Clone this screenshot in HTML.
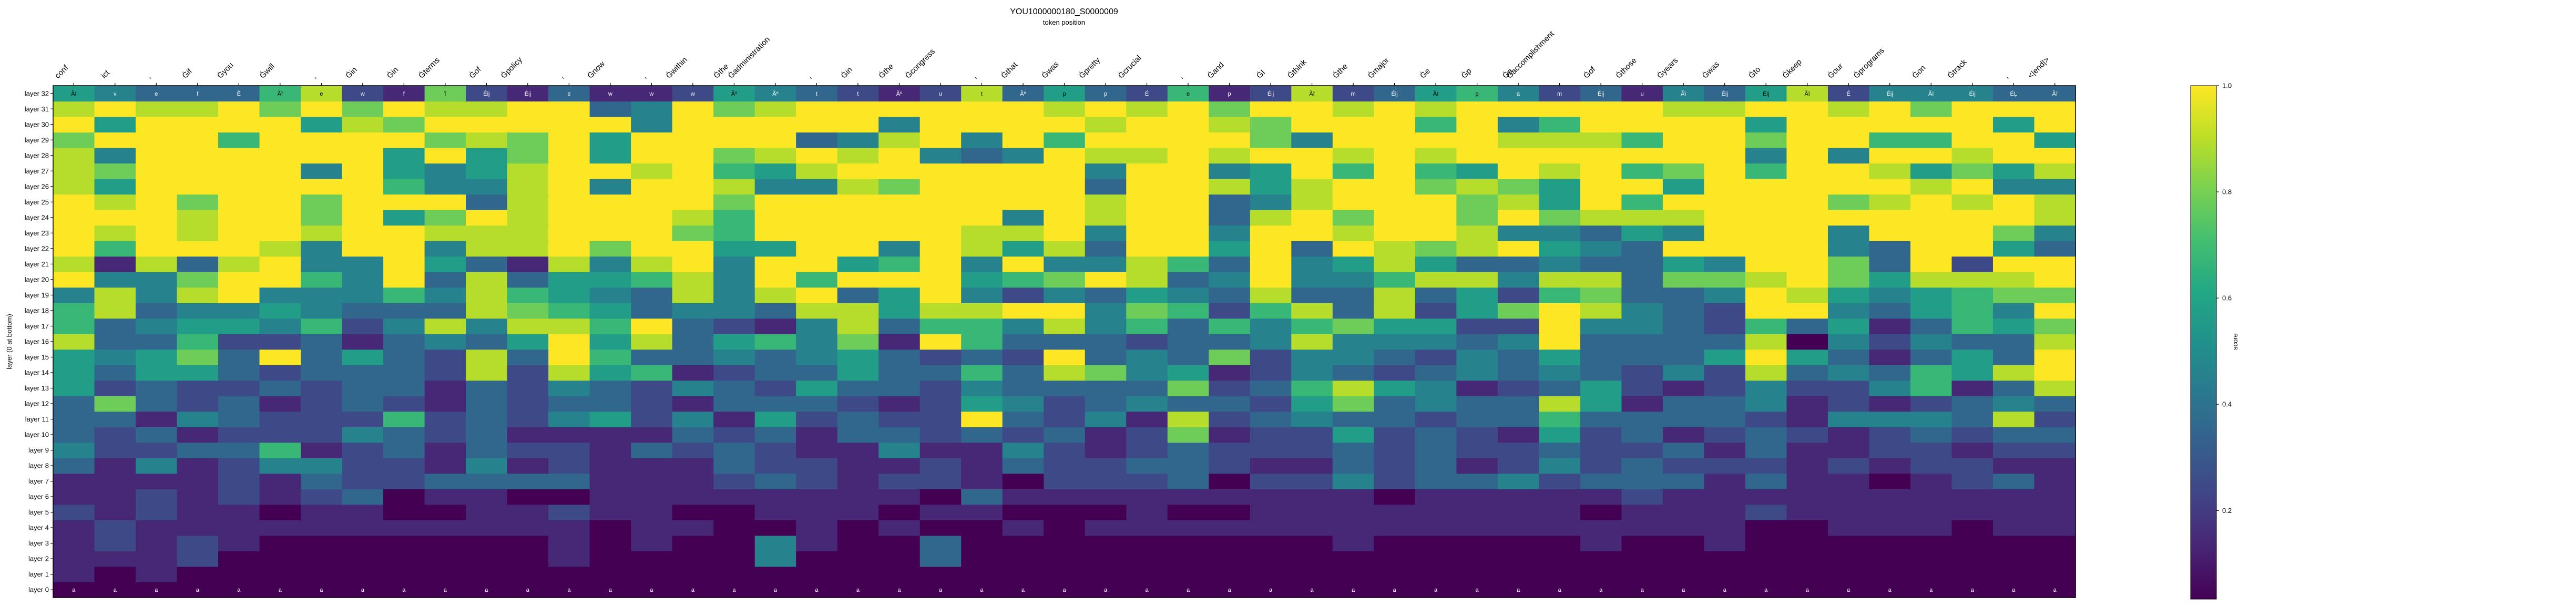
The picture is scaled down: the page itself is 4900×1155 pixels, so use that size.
<!DOCTYPE html>
<html><head><meta charset="utf-8">
<style>
html,body{margin:0;padding:0;background:#fff;}
svg{display:block;font-family:"Liberation Sans","DejaVu Sans",sans-serif;}
</style></head>
<body>
<svg id="chart" width="4900" height="1155" viewBox="0 0 4900 1155" xmlns="http://www.w3.org/2000/svg">
  <text x="2024" y="27" text-anchor="middle" font-size="16">YOU1000000180_S0000009</text>
  <text x="2024" y="47" text-anchor="middle" font-size="13">token position</text>
  <text transform="translate(22,650) rotate(-90)" text-anchor="middle" font-size="13">layer (0 at bottom)</text>
  <g id="cells"></g>
  <g id="xticks"></g>
  <g id="yticks"></g>
  <rect x="101" y="163" width="3847" height="974" fill="none" stroke="#000" stroke-width="1.5"/>
  <defs><linearGradient id="vgrad" x1="0" y1="1" x2="0" y2="0"></linearGradient></defs>
  <rect x="4167" y="163" width="49" height="977" fill="url(#vgrad)" stroke="#000" stroke-width="1"/>
  <g id="cbticks"></g>
  <text transform="translate(4256,650) rotate(-90)" text-anchor="middle" font-size="13">score</text>
</svg>
<script>
// ---- data ----
const tokens = ["conf","ict",",","Ġif","Ġyou","Ġwill",",","Ġin","Ġin","Ġterms","Ġof","Ġpolicy",",","Ġnow",",","Ġwithin","Ġthe","Ġadministration",",","Ġin","Ġthe","Ġcongress",",","Ġthat","Ġwas","Ġpretty","Ġcrucial",",","Ġand","ĠI","Ġthink","Ġthe","Ġmajor","Ġe","Ġp","Ġa","Ġaccomplishment","Ġof","Ġthose","Ġyears","Ġwas","Ġto","Ġkeep","Ġour","Ġprograms","Ġon","Ġtrack",",","<|end|>"];
const colorbarTicks = [0.2,0.4,0.6,0.8,1.0];
const scoreMin = 0.033, scoreMax = 1.0;
// level values (0..9) per layer, score = min + level/9*(max-min)
const layer32=[5,4,3,3,3,6,8,2,1,7,2,1,3,1,1,2,5,4,3,2,1,2,8,3,5,3,2,6,1,2,8,2,3,5,6,4,2,3,1,4,3,5,8,2,4,4,4,3,3];
const layer31=[8,9,8,8,9,7,9,7,9,8,8,9,9,3,4,9,7,8,9,9,9,9,9,9,8,9,8,9,7,9,9,8,9,8,9,9,9,9,9,8,8,9,9,8,9,7,9,9,9];
const layer30=[9,5,9,9,9,9,5,8,7,9,9,9,9,9,4,9,9,9,9,9,4,9,9,9,9,8,9,9,8,7,9,9,9,6,9,4,6,9,9,9,9,5,9,9,9,9,9,5,9];
const layer29=[7,9,9,9,6,9,9,9,9,7,8,7,9,5,9,9,9,9,3,4,8,9,4,9,6,9,9,9,9,7,4,9,9,9,9,8,8,8,6,9,9,7,9,9,6,6,9,9,5];
const layer28=[8,4,9,9,9,9,9,9,5,9,5,7,9,5,9,9,7,8,9,8,9,4,3,4,9,8,8,9,8,9,9,8,9,8,9,9,9,9,9,9,9,4,9,4,9,9,8,9,9];
const layer27=[8,7,9,9,9,9,4,9,5,4,5,8,9,9,8,9,6,5,8,9,9,9,9,9,9,4,9,9,4,5,9,6,9,6,5,9,8,9,6,7,9,6,9,9,8,5,7,5,8];
const layer26=[8,5,9,9,9,9,9,9,6,4,4,8,9,4,9,9,8,4,4,8,7,9,9,9,9,3,9,9,8,5,8,9,9,7,8,7,5,9,9,5,9,9,9,9,9,8,9,4,4];
const layer25=[9,8,9,7,9,9,7,9,9,9,3,8,9,9,9,9,7,9,9,9,9,9,9,9,9,8,9,9,3,4,8,9,9,9,7,8,5,9,6,9,9,9,9,7,8,9,8,9,8];
const layer24=[9,9,9,8,9,9,7,9,5,7,9,8,9,9,9,8,6,9,9,9,9,9,9,4,9,8,9,9,3,8,9,7,9,9,7,9,7,8,8,8,9,9,9,9,9,9,9,9,8];
const layer23=[9,8,9,8,9,9,8,9,9,8,8,8,9,9,9,7,6,9,9,9,9,9,8,8,9,4,9,9,4,9,9,8,9,9,8,4,4,3,5,4,9,9,9,4,9,9,9,7,4];
const layer22=[9,6,9,9,9,8,4,9,9,4,8,8,9,7,9,9,5,5,9,9,4,9,8,5,8,3,9,9,5,9,3,9,8,7,8,9,5,4,3,9,9,9,9,4,3,9,9,5,3];
const layer21=[8,1,8,3,8,9,4,4,9,5,3,1,8,4,8,9,4,9,9,5,6,9,4,9,4,4,8,6,3,9,4,5,8,5,3,3,4,3,3,5,4,9,9,7,3,9,2,9,9];
const layer20=[9,4,4,7,9,9,6,4,9,3,8,3,5,5,6,8,4,9,6,9,9,9,5,6,7,9,8,3,4,9,4,4,6,8,8,4,8,8,3,7,7,8,9,7,5,8,8,8,9];
const layer19=[4,8,4,8,9,4,4,4,6,4,8,6,5,4,3,8,4,8,9,3,5,9,4,2,4,3,5,4,3,8,3,3,8,3,5,2,6,7,3,3,4,9,8,5,4,5,6,7,7];
const layer18=[6,8,3,4,4,5,4,3,3,3,8,7,6,5,3,4,4,3,8,8,5,8,8,9,9,4,7,6,2,6,8,3,8,2,5,7,9,8,4,3,2,9,9,4,3,5,6,4,9];
const layer17=[6,3,4,5,5,4,6,2,4,8,4,8,8,6,9,3,2,1,4,8,3,6,6,4,8,4,6,3,6,4,6,7,5,5,2,2,9,4,4,3,2,6,3,5,1,3,6,5,7];
const layer16=[8,3,3,6,2,2,3,1,3,4,3,5,9,5,8,3,5,6,4,7,1,9,6,3,3,3,2,3,3,4,8,4,4,4,3,4,9,3,3,3,3,8,0,4,2,4,3,3,8];
const layer15=[5,4,5,7,3,9,3,5,3,2,8,3,9,6,3,3,4,3,4,5,3,2,3,2,9,3,4,3,7,2,4,4,3,2,4,3,5,3,3,3,5,9,5,3,1,3,5,3,9];
const layer14=[5,3,5,5,3,2,3,3,3,2,8,2,8,5,6,1,2,3,3,5,3,3,6,3,8,7,4,5,1,2,4,3,2,3,4,3,4,3,2,4,2,8,3,4,3,6,5,8,9];
const layer13=[5,2,3,2,2,3,2,3,3,1,3,2,4,3,2,4,3,2,5,3,3,2,4,3,3,3,3,7,2,3,6,8,5,4,1,2,3,5,2,1,2,4,2,2,4,6,1,3,8];
const layer12=[3,7,3,2,3,1,2,3,2,1,3,2,3,3,2,1,3,3,3,2,1,2,5,4,2,3,4,3,3,2,5,7,3,4,3,3,8,5,1,3,3,4,1,2,1,2,3,4,3];
const layer11=[3,3,1,4,3,2,2,2,6,2,3,2,4,5,2,4,1,5,2,3,2,2,9,3,2,4,1,8,2,3,4,3,3,2,3,3,6,3,3,3,3,2,1,4,4,4,3,8,2];
const layer10=[3,2,3,1,2,2,2,4,3,2,3,1,1,1,1,3,2,3,1,3,3,2,3,2,3,1,2,7,1,2,2,5,2,3,2,1,5,2,3,1,2,3,2,1,2,3,2,3,3];
const layer9=[4,2,2,3,3,6,1,2,3,1,3,2,2,1,3,2,3,2,1,1,4,1,1,4,2,1,2,3,2,2,2,3,2,3,2,2,3,2,2,3,1,3,1,1,2,2,1,2,2];
const layer8=[3,1,4,1,2,4,4,2,2,1,4,1,2,1,1,1,3,2,2,1,1,2,1,3,2,2,3,3,2,1,1,3,2,3,1,2,4,2,3,2,2,2,1,2,1,2,2,1,1];
const layer7=[1,1,1,1,2,1,3,2,2,3,3,3,3,1,1,1,2,3,2,1,2,2,1,0,2,2,2,3,0,2,2,4,2,3,3,4,2,3,3,3,1,3,1,1,0,1,2,3,1];
const layer6=[1,1,2,1,2,1,2,3,0,1,1,0,0,1,1,1,1,1,1,1,1,0,3,1,1,1,1,1,1,1,1,1,0,1,1,1,1,1,2,1,1,1,1,1,1,1,1,1,1];
const layer5=[2,1,2,1,1,0,1,1,0,0,1,1,2,1,1,0,0,1,1,1,0,1,1,0,0,0,1,0,0,1,1,1,1,1,1,1,1,0,1,1,1,2,1,1,1,1,1,1,1];
const layer4=[1,2,1,1,1,1,1,1,1,1,1,1,1,0,1,1,0,0,1,0,1,0,0,1,0,1,1,1,1,1,1,1,1,1,1,1,1,1,1,1,1,0,0,1,1,1,0,1,1];
const layer3=[1,2,1,2,1,0,0,0,0,0,0,0,1,0,1,0,0,4,1,0,0,3,0,0,0,0,0,0,0,0,0,1,0,0,0,0,0,1,0,0,1,0,0,0,0,0,0,0,0];
const layer2=[1,1,1,2,0,0,0,0,0,0,0,0,1,0,0,0,0,4,0,0,0,3,0,0,0,0,0,0,0,0,0,0,0,0,0,0,0,0,0,0,0,0,0,0,0,0,0,0,0];
const layer1=[1,0,1,0,0,0,0,0,0,0,0,0,0,0,0,0,0,0,0,0,0,0,0,0,0,0,0,0,0,0,0,0,0,0,0,0,0,0,0,0,0,0,0,0,0,0,0,0,0];
const layer0=[0,0,0,0,0,0,0,0,0,0,0,0,0,0,0,0,0,0,0,0,0,0,0,0,0,0,0,0,0,0,0,0,0,0,0,0,0,0,0,0,0,0,0,0,0,0,0,0,0];
const layers=[layer0,layer1,layer2,layer3,layer4,layer5,layer6,layer7,layer8,layer9,layer10,layer11,layer12,layer13,layer14,layer15,layer16,layer17,layer18,layer19,layer20,layer21,layer22,layer23,layer24,layer25,layer26,layer27,layer28,layer29,layer30,layer31,layer32];
const layer32Text=["Ãï","v","e","f","Ê","Ãï","e","w","f","ĩ","Éij","Éij","e","w","w","w","Ãº","Ãº","t","t","Ãº","u","t","Ãº","p","p","É","e","p","Éij","Ãï","m","Éij","Ãï","p","a","m","Éij","u","Ãï","Éij","Éij","Ãï","É","Éij","Ãï","Éij","ÉĻ","Ãï"];

// ---- geometry ----
const NS="http://www.w3.org/2000/svg";
const plotL=101, plotT=163, plotW=3847, plotH=974;
const nCols=tokens.length, nRows=layers.length;
const cw=plotW/nCols, ch=plotH/nRows;
function xCenter(i){return plotL+(i+0.5)*cw;}
function yTop(layer){return plotT+(nRows-1-layer)*ch;}
function toScore(level){return scoreMin+level/9*(scoreMax-scoreMin);}
const vir=["#440154","#482475","#414487","#355f8d","#2a788e","#21918c","#22a884","#44bf70","#7ad151","#bddf26","#fde725"];
function hex(h){return [1,3,5].map(k=>parseInt(h.substr(k,2),16));}
function viridis(t){t=Math.max(0,Math.min(1,t));const p=t*10,i=Math.min(9,Math.floor(p)),f=p-i;const a=hex(vir[i]),b=hex(vir[i+1]);return "rgb("+a.map((v,k)=>Math.round(v+(b[k]-v)*f)).join(",")+")";}
function colorOf(score){return viridis((score-scoreMin)/(scoreMax-scoreMin));}
function cbY(score){return 1140-(score-scoreMin)/(scoreMax-scoreMin)*977;}

// ---- cells ----
const gc=document.getElementById('cells');
layers.forEach((row,l)=>{
  row.forEach((lv,i)=>{
    const s=toScore(lv);
    const r=document.createElementNS(NS,'rect');
    r.setAttribute('x',(plotL+i*cw).toFixed(2));
    r.setAttribute('y',yTop(l).toFixed(2));
    r.setAttribute('width',(cw+0.6).toFixed(2));
    r.setAttribute('height',(ch+0.6).toFixed(2));
    r.setAttribute('fill',colorOf(s));
    
    
    gc.appendChild(r);
    let txt=null;
    if(l===32) txt=layer32Text[i];
    else if(l===0) txt="a";
    if(txt){
      const t=document.createElementNS(NS,'text');
      t.setAttribute('x',xCenter(i).toFixed(2));
      t.setAttribute('y',(yTop(l)+ch/2+4).toFixed(2));
      t.setAttribute('text-anchor','middle');
      t.setAttribute('font-size','11');
      t.setAttribute('fill',lv<=4?'#fff':'#000');
      t.textContent=txt;
      
      
      gc.appendChild(t);
    }
  });
});

// ---- x ticks (top) ----
const gx=document.getElementById('xticks');
tokens.forEach((tok,i)=>{
  const x=xCenter(i);
  const ln=document.createElementNS(NS,'line');
  ln.setAttribute('x1',x);ln.setAttribute('x2',x);ln.setAttribute('y1',plotT-5);ln.setAttribute('y2',plotT);
  ln.setAttribute('stroke','#000');
  ln.setAttribute('stroke-width','1.2');
  
  
  gx.appendChild(ln);
  const t=document.createElementNS(NS,'text');
  t.setAttribute('font-size','15');
  t.textContent=tok;
  
  
  gx.appendChild(t);
  const w=t.getComputedTextLength?t.getComputedTextLength():tok.length*8;
  const h=11;
  const x0=x-2-w*0.7071-h*0.7071;
  t.setAttribute('transform','translate('+x0.toFixed(2)+',150) rotate(-45)');
});

// ---- y ticks ----
const gy=document.getElementById('yticks');
layers.forEach((row,l)=>{
  const y=yTop(l)+ch/2;
  const ln=document.createElementNS(NS,'line');
  ln.setAttribute('x1',plotL-5);ln.setAttribute('x2',plotL);ln.setAttribute('y1',y);ln.setAttribute('y2',y);
  ln.setAttribute('stroke','#000');
  ln.setAttribute('stroke-width','1.2');
  
  
  gy.appendChild(ln);
  const t=document.createElementNS(NS,'text');
  t.setAttribute('x',plotL-8);t.setAttribute('y',y+4.5);
  t.setAttribute('text-anchor','end');t.setAttribute('font-size','13');
  t.textContent='layer '+l;
  
  
  gy.appendChild(t);
});

// ---- colorbar ----
const grad=document.getElementById('vgrad');
vir.forEach((c,k)=>{const st=document.createElementNS(NS,'stop');st.setAttribute('offset',(k*10)+'%');st.setAttribute('stop-color',c);grad.appendChild(st);});
const gcb=document.getElementById('cbticks');
colorbarTicks.forEach(v=>{
  const y=cbY(v);
  const ln=document.createElementNS(NS,'line');
  ln.setAttribute('x1',4216);ln.setAttribute('x2',4221);ln.setAttribute('y1',y);ln.setAttribute('y2',y);
  ln.setAttribute('stroke','#000');
  
  
  gcb.appendChild(ln);
  const t=document.createElementNS(NS,'text');
  t.setAttribute('x',4227);t.setAttribute('y',y+4.5);t.setAttribute('font-size','13');
  t.textContent=v.toFixed(1);
  
  
  gcb.appendChild(t);
});
</script>
</body></html>
